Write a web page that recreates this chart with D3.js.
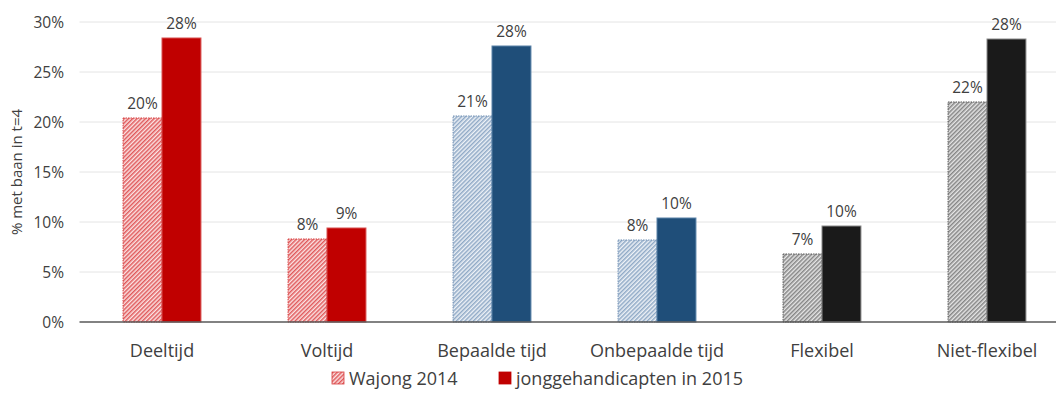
<!DOCTYPE html>
<html>
<head>
<meta charset="utf-8">
<script src="https://cdn.jsdelivr.net/npm/d3@7"></script>
<style>
  html, body { margin: 0; padding: 0; background: #fff; }
  svg text { font-family: "Open Sans", Lato, sans-serif; fill: #404040; }
</style>
</head>
<body>
<svg id="chart" width="1056" height="394"></svg>
<script>
// Share of people with a job at t=4, by contract type
const categories = ["Deeltijd", "Voltijd", "Bepaalde tijd", "Onbepaalde tijd", "Flexibel", "Niet-flexibel"];
const wajong2014 = [0.204, 0.083, 0.206, 0.082, 0.068, 0.220];
const jongge2015 = [0.284, 0.094, 0.276, 0.104, 0.096, 0.283];
const seriesNames = ["Wajong 2014", "jonggehandicapten in 2015"];
const yTicks = [0, 0.05, 0.10, 0.15, 0.20, 0.25, 0.30];
const groupColors = ["#c00000", "#c00000", "#1f4e79", "#1f4e79", "#1a1a1a", "#1a1a1a"];
const hatchBorder = ["#d63c3c", "#d63c3c", "#6f8fb3", "#6f8fb3", "#555555", "#555555"];
const solidStroke = ["#d85050", "#d85050", "#5a82a8", "#5a82a8", "#8a8a8a", "#8a8a8a"];

const svg = d3.select("#chart");
const W = 1056;
const plot = { left: 79.5, right: 1069.5, top: 22, bottom: 322 };

const x = d3.scaleBand().domain(categories).range([plot.left, plot.right]).paddingInner(0).paddingOuter(0);
const barW = x.bandwidth() * 0.236;
const y = d3.scaleLinear().domain([0, 0.30]).range([plot.bottom, plot.top]);
const pct = d3.format(".0%");

// Fine diagonal hatch patterns for the 2014 series
const defs = svg.append("defs");
const hatchDefs = [
  { id: "hatch-red", bg: "#fbe3e3", line: "#e0595b" },
  { id: "hatch-blue", bg: "#eef2f7", line: "#8fa9c6" },
  { id: "hatch-black", bg: "#e6e6e6", line: "#858585" }
];
hatchDefs.forEach(h => {
  const s = 3;
  const p = defs.append("pattern")
    .attr("id", h.id)
    .attr("patternUnits", "userSpaceOnUse")
    .attr("width", s).attr("height", s)
    .attr("patternTransform", "rotate(45)");
  p.append("rect").attr("width", s).attr("height", s).attr("fill", h.bg);
  p.append("line").attr("x1", 0.75).attr("y1", 0).attr("x2", 0.75).attr("y2", s)
    .attr("stroke", h.line).attr("stroke-width", 1.5);
});
const hatchFor = i => i < 2 ? "url(#hatch-red)" : i < 4 ? "url(#hatch-blue)" : "url(#hatch-black)";

// Gridlines
svg.append("g")
  .selectAll("line")
  .data(yTicks.filter(t => t > 0))
  .join("line")
  .attr("x1", plot.left).attr("x2", W)
  .attr("y1", d => y(d)).attr("y2", d => y(d))
  .attr("stroke", "#e4e4e4").attr("stroke-width", 1);

// Y axis labels
const yAxis = d3.axisLeft(y).tickValues(yTicks).tickFormat(pct).tickSize(0).tickPadding(0);
const yG = svg.append("g").attr("transform", "translate(64,0)").call(yAxis);
yG.select(".domain").remove();
yG.selectAll("text").style("font-size", "15.5px").attr("fill", "#404040").attr("dy", "0.35em");

// Y axis title
svg.append("text")
  .attr("transform", `translate(22,${(plot.top + plot.bottom) / 2}) rotate(-90)`)
  .attr("text-anchor", "middle")
  .style("font-size", "15px")
  .text("% met baan in t=4");

// Bars
const groups = svg.append("g").selectAll("g")
  .data(categories.map((c, i) => ({ c, i, a: wajong2014[i], b: jongge2015[i] })))
  .join("g");

groups.append("rect")
  .attr("x", d => x(d.c) + x.bandwidth() / 2 - barW)
  .attr("y", d => y(d.a))
  .attr("width", barW)
  .attr("height", d => y(0) - y(d.a))
  .attr("fill", d => hatchFor(d.i))
  .attr("stroke", d => hatchBorder[d.i])
  .attr("stroke-width", 1)
  .attr("stroke-dasharray", "1.5,1");

groups.append("rect")
  .attr("x", d => x(d.c) + x.bandwidth() / 2)
  .attr("y", d => y(d.b))
  .attr("width", barW)
  .attr("height", d => y(0) - y(d.b))
  .attr("fill", d => groupColors[d.i])
  .attr("stroke", d => solidStroke[d.i])
  .attr("stroke-width", 1);

// Value labels
groups.append("text")
  .attr("x", d => x(d.c) + x.bandwidth() / 2 - barW / 2)
  .attr("y", d => y(d.a) - 9)
  .attr("text-anchor", "middle")
  .style("font-size", "15.5px")
  .text(d => pct(d.a));
groups.append("text")
  .attr("x", d => x(d.c) + x.bandwidth() / 2 + barW / 2)
  .attr("y", d => y(d.b) - 9)
  .attr("text-anchor", "middle")
  .style("font-size", "15.5px")
  .text(d => pct(d.b));

// Baseline
svg.append("line")
  .attr("x1", plot.left).attr("x2", W)
  .attr("y1", y(0)).attr("y2", y(0))
  .attr("stroke", "#595959").attr("stroke-width", 1.5);

// Category labels
const xAxis = d3.axisBottom(x).tickSize(0).tickPadding(0);
const xG = svg.append("g").attr("transform", `translate(0,${y(0)})`).call(xAxis);
xG.select(".domain").remove();
xG.selectAll("text").style("font-size", "18px").attr("fill", "#262626").attr("y", 35).attr("dy", 0);

// Legend
const legend = svg.append("g");
const legendItems = [
  { name: seriesNames[0], fill: "url(#hatch-red)", stroke: "#d63c3c", x: 332 },
  { name: seriesNames[1], fill: "#c00000", stroke: "#c00000", x: 499 }
];
legendItems.forEach(it => {
  legend.append("rect")
    .attr("x", it.x).attr("y", 372).attr("width", 12).attr("height", 12)
    .attr("fill", it.fill).attr("stroke", it.stroke).attr("stroke-width", 0.8);
  legend.append("text")
    .attr("x", it.x + 17).attr("y", 385)
    .style("font-size", "18px").attr("fill", "#262626")
    .text(it.name);
});
</script>
</body>
</html>
